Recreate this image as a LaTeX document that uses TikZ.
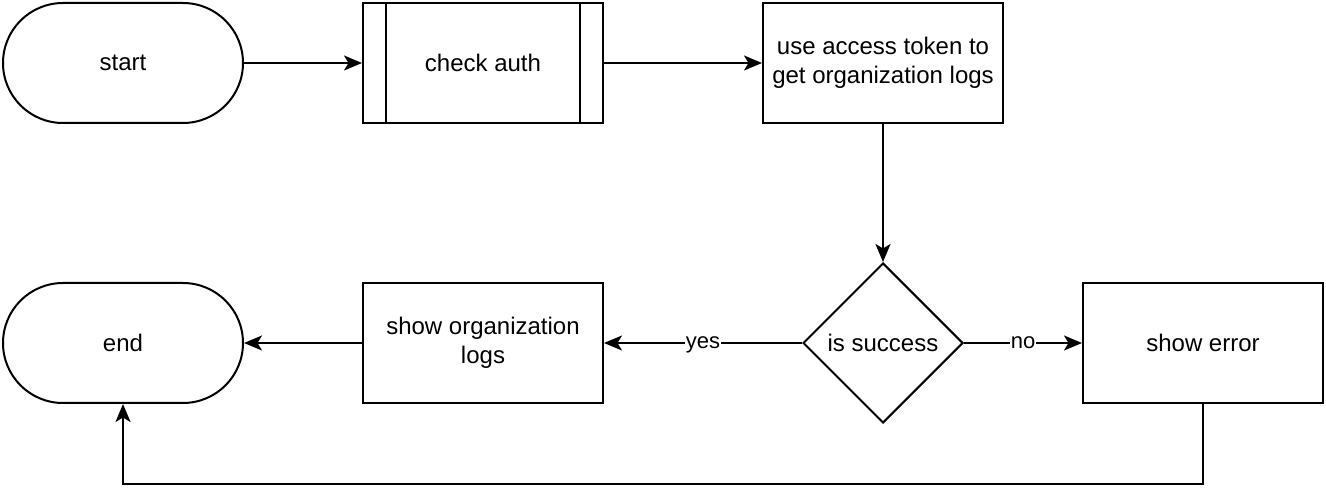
\documentclass[tikz,border=0pt]{standalone}
\usepackage{fontspec}
\setmainfont{Liberation Sans}
\usetikzlibrary{shapes.geometric,arrows.meta}

\begin{document}
\begin{tikzpicture}[x=1pt,y=1pt,
    line width=2pt,
    >={Stealth[length=18pt,width=15pt,inset=4.5pt]},
    box/.style={draw,minimum width=240pt,minimum height=120pt,inner sep=0pt,
        align=center,font=\fontsize{24}{29}\selectfont},
    terminal/.style={box,rounded corners=60pt},
    decision/.style={draw,diamond,minimum size=160pt,inner sep=0pt,aspect=1,
        font=\fontsize{24}{29}\selectfont},
    edgelabel/.style={fill=white,inner sep=1pt,text height=11.5pt,text depth=0pt,
        font=\fontsize{22}{26}\selectfont}
]

% Canvas
\useasboundingbox (0,0) rectangle (1326,-502);

% Top row
\node[terminal] (start) at (123,-63) {start};
\node[box] (auth) at (483,-63) {check auth};
\node[box] (fetch) at (883,-63) {use access token to\\get organization logs};

% Sub-process bars
\draw ([xshift=24pt]auth.north west) -- ([xshift=24pt]auth.south west);
\draw ([xshift=-24pt]auth.north east) -- ([xshift=-24pt]auth.south east);

% Bottom row
\node[terminal] (end) at (123,-343) {end};
\node[box] (show) at (483,-343) {show organization\\logs};
\node[decision] (ok) at (883,-343) {is success};
\node[box] (err) at (1203,-343) {show error};

% Connectors
\draw[->] (start) -- (auth);
\draw[->] (auth) -- (fetch);
\draw[->] (fetch) -- (ok);
\draw[->] (ok) -- node[edgelabel] {yes} (show);
\draw[->] (ok) -- node[edgelabel] {no} (err);
\draw[->] (show) -- (end);
\draw[->] (err.south) -- ++(0,-80) -| (end.south);

\end{tikzpicture}
\end{document}
